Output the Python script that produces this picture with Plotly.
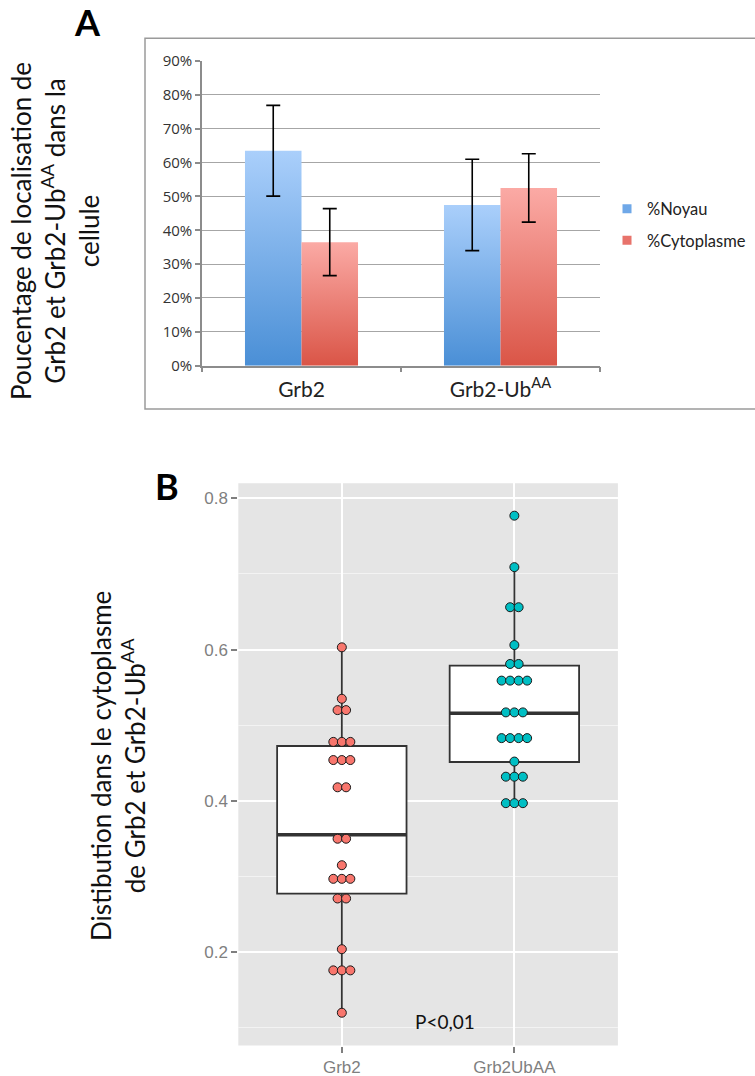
import plotly.graph_objects as go

W, H = 755, 1076

# ---------------- Panel A data ----------------
cat_a = ["Grb2", "Grb2-Ub<sup>AA</sup>"]
noyau = [63.5, 47.5]
noyau_err = [13.4, 13.5]
cyto = [36.5, 52.5]
cyto_err = [9.9, 10.1]
a_ticks = [0, 10, 20, 30, 40, 50, 60, 70, 80, 90]

# ---------------- Panel B data ----------------
cat_b = ["Grb2", "Grb2UbAA"]
grb2_vals = [0.603, 0.535, 0.520, 0.520, 0.478, 0.478, 0.478, 0.454, 0.454, 0.454,
             0.418, 0.418, 0.350, 0.350, 0.315, 0.297, 0.297, 0.297, 0.271, 0.271,
             0.204, 0.176, 0.176, 0.176, 0.120]
ub_vals = [0.777, 0.709, 0.656, 0.656, 0.606, 0.581, 0.581, 0.559, 0.559, 0.559,
           0.559, 0.517, 0.517, 0.517, 0.483, 0.483, 0.483, 0.483, 0.452, 0.432,
           0.432, 0.432, 0.397, 0.397, 0.397]
box_q1 = [0.2774, 0.4514]
box_median = [0.3553, 0.5158]
box_q3 = [0.4726, 0.5787]
box_low = [0.120, 0.397]
box_high = [0.603, 0.709]
b_ticks = [0.2, 0.4, 0.6, 0.8]
b_minor = [0.1, 0.3, 0.5, 0.7]

fig = go.Figure()

# ---------------- Panel A ----------------
bar_w = 0.284
series = [
    ("%Noyau", noyau, noyau_err, -bar_w / 2, "#4A8FD6", "#AACFFB", "#6FA8E8"),
    ("%Cytoplasme", cyto, cyto_err, bar_w / 2, "#DA5547", "#FBAAA5", "#E8736B"),
]
for name, vals, errs, off, dark, light, swatch in series:
    for i, v in enumerate(vals):
        x0, x1 = i + off - bar_w / 2, i + off + bar_w / 2
        fig.add_trace(go.Scatter(
            x=[x0, x1, x1, x0, x0], y=[0, 0, v, v, 0],
            mode="lines", fill="toself", line=dict(width=0, color=light),
            fillgradient=dict(type="vertical", colorscale=[[0, dark], [1, light]],
                              start=0, stop=v),
            hoverinfo="skip", showlegend=False, xaxis="x", yaxis="y"))
    fig.add_trace(go.Scatter(
        x=[i + off for i in range(len(vals))], y=vals, mode="markers",
        marker=dict(size=1, opacity=0),
        error_y=dict(type="data", array=errs, color="black", thickness=1.6, width=7),
        showlegend=False, xaxis="x", yaxis="y"))
    fig.add_trace(go.Scatter(
        x=[None], y=[None], mode="markers", name=name, legendgroup=name,
        marker=dict(symbol="square", size=9, color=swatch),
        xaxis="x", yaxis="y"))

# ---------------- Panel B ----------------
fig.add_trace(go.Box(
    x=[1, 2], q1=box_q1, median=box_median, q3=box_q3,
    lowerfence=box_low, upperfence=box_high, width=0.75, whiskerwidth=0,
    fillcolor="white", line=dict(color="#333333", width=1.8),
    boxpoints=False, showlegend=False, xaxis="x2", yaxis="y2"))

mx, my = [], []
for i, m in enumerate(box_median):
    mx += [i + 1 - 0.375, i + 1 + 0.375, None]
    my += [m, m, None]
fig.add_trace(go.Scatter(x=mx, y=my, mode="lines",
                         line=dict(color="#333333", width=3.6),
                         showlegend=False, xaxis="x2", yaxis="y2"))

dot_step = 0.0493
for i, (vals, col) in enumerate([(grb2_vals, "#F8766D"), (ub_vals, "#00BFC4")]):
    counts = {}
    for v in vals:
        counts[v] = counts.get(v, 0) + 1
    xs, ys = [], []
    for v, k in counts.items():
        for j in range(k):
            xs.append(i + 1 + (j - (k - 1) / 2) * dot_step)
            ys.append(v)
    fig.add_trace(go.Scatter(x=xs, y=ys, mode="markers",
                             marker=dict(size=9, color=col,
                                         line=dict(color="#1a1a1a", width=1)),
                             showlegend=False, xaxis="x2", yaxis="y2"))

# ---------------- Layout ----------------
grid_a = "#A6A6A6"
fig.update_layout(
    template="none",
    width=W, height=H, margin=dict(l=0, r=0, t=0, b=0, autoexpand=False),
    paper_bgcolor="white", plot_bgcolor="white",
    xaxis=dict(domain=[202 / W, 600 / W], range=[-0.5, 1.5], anchor="y",
               tickvals=[0, 1], ticktext=cat_a, ticks="",
               showgrid=False, zeroline=False, showline=True,
               linecolor="#8C8C8C", linewidth=1.5,
               tickfont=dict(family="Lato", size=21, color="#222222"),
               ticklabelstandoff=4,
               minor=dict(tickvals=[-0.5, 0.5, 1.5], ticks="outside", ticklen=5,
                          tickcolor="#8C8C8C", tickwidth=1.5, showgrid=False)),
    yaxis=dict(domain=[1 - 365.7 / H, 1 - 61 / H], range=[0, 90], anchor="x",
               tickvals=a_ticks, ticktext=[f"{t}%" for t in a_ticks],
               ticks="outside", ticklen=5,
               tickcolor="#8C8C8C", tickwidth=1.5,
               showgrid=True, gridcolor=grid_a, gridwidth=1.4, zeroline=False,
               showline=True, linecolor="#8C8C8C", linewidth=1.5,
               tickfont=dict(family="Open Sans", size=15, color="#333333")),
    xaxis2=dict(domain=[238.3 / W, 617.9 / W], range=[0.4, 2.6], anchor="y2",
                tickvals=[1, 2], ticktext=cat_b, ticks="outside", ticklen=6,
                tickcolor="#7F7F7F", tickwidth=1.5,
                showgrid=True, gridcolor="white", gridwidth=1.5, zeroline=False,
                showline=False,
                tickfont=dict(family="Liberation Sans", size=17, color="#7F7F7F")),
    yaxis2=dict(domain=[1 - 1045.5 / H, 1 - 483.3 / H], range=[0.0767, 0.8198],
                anchor="x2",
                tickvals=b_ticks, ticks="outside", ticklen=6,
                tickcolor="#7F7F7F", tickwidth=1.5,
                showgrid=True, gridcolor="white", gridwidth=1.5, zeroline=False,
                showline=False,
                tickfont=dict(family="Liberation Sans", size=17, color="#7F7F7F"),
                minor=dict(tickvals=b_minor, showgrid=True, gridcolor="#F3F3F3",
                           gridwidth=0.8, ticks="")),
    showlegend=True,
    legend=dict(x=607 / W, y=1 - 224.5 / H, xanchor="left", yanchor="middle",
                font=dict(family="Lato", size=16.5, color="#222222"),
                bgcolor="rgba(0,0,0,0)", itemwidth=30,
                traceorder="grouped", tracegroupgap=7),
    shapes=[
        dict(type="rect", xref="paper", yref="paper",
             x0=145 / W, x1=1.01, y0=1 - 409 / H, y1=1 - 38.3 / H,
             line=dict(color="#9A9A9A", width=1.5), fillcolor="rgba(0,0,0,0)",
             layer="below"),
        dict(type="rect", xref="x2 domain", yref="y2 domain",
             x0=0, x1=1, y0=0, y1=1, fillcolor="#E5E5E5",
             line=dict(width=0), layer="below"),
    ],
    annotations=[
        dict(text="<b>A</b>", x=87 / W, y=1 - 21.5 / H, xref="paper", yref="paper",
             showarrow=False, xanchor="center", yanchor="middle",
             font=dict(family="Lato", size=36, color="black", weight=900)),
        dict(text="<b>B</b>", x=167 / W, y=1 - 486 / H, xref="paper", yref="paper",
             showarrow=False, xanchor="center", yanchor="middle",
             font=dict(family="Lato", size=36, color="black", weight=900)),
        dict(text="Poucentage de localisation de<br>Grb2 et Grb2-Ub<sup>AA</sup> dans la<br>cellule",
             x=55 / W, y=1 - 231 / H, xref="paper", yref="paper", textangle=-90,
             showarrow=False, xanchor="center", yanchor="middle", align="center",
             font=dict(family="Lato", size=26, color="#111111")),
        dict(text="Distibution dans le cytoplasme<br>de Grb2 et Grb2-Ub<sup>AA</sup>",
             x=118 / W, y=1 - 766 / H, xref="paper", yref="paper", textangle=-90,
             showarrow=False, xanchor="center", yanchor="middle", align="center",
             font=dict(family="Lato", size=26, color="#111111")),
        dict(text="P<0,01", x=1.6, y=0.108, xref="x2", yref="y2",
             showarrow=False, xanchor="center", yanchor="middle",
             font=dict(family="Lato", size=19, color="#111111")),
    ],
)

fig.write_html("out.html", config={"displayModeBar": False},
               post_script="document.body.style.margin='0px';")
